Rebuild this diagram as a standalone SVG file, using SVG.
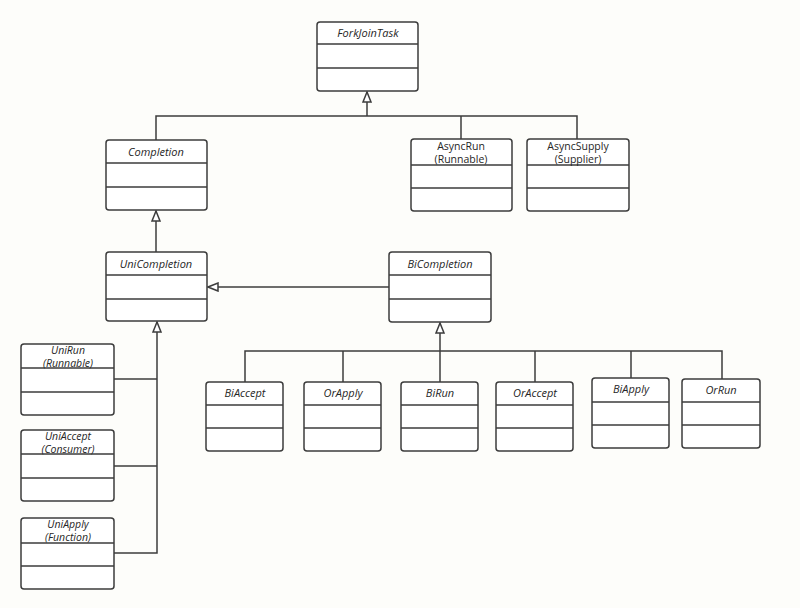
<svg xmlns="http://www.w3.org/2000/svg" width="800" height="608" viewBox="0 0 800 608">
<style>
.bg{fill:#fdfdfa}
.box{fill:#ffffff;stroke:#3c3c3c;stroke-width:1.5}
.div{stroke:#3c3c3c;stroke-width:1.5;fill:none}
.t{font-family:"Open Sans","DejaVu Sans",sans-serif;font-size:11px;fill:#262626;text-anchor:middle;font-weight:500}
.s{font-size:10.5px}
.i{font-style:italic}
.c{stroke:#3c3c3c;stroke-width:1.5;fill:none}
</style>
<defs>
<marker id="gen" markerUnits="userSpaceOnUse" viewBox="0 0 12 10" markerWidth="12" markerHeight="10" refX="11" refY="5" orient="auto">
<path d="M1,1 L11,5 L1,9 Z" fill="#ffffff" stroke="#3c3c3c" stroke-width="1.5"/>
</marker>
</defs>
<rect class="bg" x="0" y="0" width="800" height="608"/>

<g id="connectors">
<path class="c" d="M156,140 V116 H577 V139"/>
<path class="c" d="M461,116 V139"/>
<path class="c" d="M367,116 V92" marker-end="url(#gen)"/>
<path class="c" d="M156,252 V211" marker-end="url(#gen)"/>
<path class="c" d="M389,287 H208" marker-end="url(#gen)"/>
<path class="c" d="M245,382 V351 H722 V379"/>
<path class="c" d="M343,351 V382"/>
<path class="c" d="M535,351 V382"/>
<path class="c" d="M631,351 V378"/>
<path class="c" d="M440,382 V351"/>
<path class="c" d="M440,351 V323" marker-end="url(#gen)"/>
<path class="c" d="M114,379 H157"/>
<path class="c" d="M114,466 H157"/>
<path class="c" d="M114,553 H157 V322" marker-end="url(#gen)"/>
</g>

<g id="ForkJoinTask">
<rect class="box" x="317" y="22" width="101" height="69" rx="3"/>
<path class="div" d="M317,44 H418 M317,68 H418"/>
<text class="t i" x="368" y="37">ForkJoinTask</text>
</g>

<g id="Completion">
<rect class="box" x="106" y="140" width="101" height="70" rx="3"/>
<path class="div" d="M106,163 H207 M106,187 H207"/>
<text class="t i" x="156" y="156">Completion</text>
</g>

<g id="AsyncRun">
<rect class="box" x="411" y="139" width="101" height="72" rx="3"/>
<path class="div" d="M411,165 H512 M411,188 H512"/>
<text class="t s" x="461" y="149.5">AsyncRun</text>
<text class="t s" x="461" y="163">(Runnable)</text>
</g>

<g id="AsyncSupply">
<rect class="box" x="527" y="139" width="102" height="72" rx="3"/>
<path class="div" d="M527,165 H629 M527,188 H629"/>
<text class="t s" x="578" y="149.5">AsyncSupply</text>
<text class="t s" x="578" y="163">(Supplier)</text>
</g>

<g id="UniCompletion">
<rect class="box" x="106" y="252" width="101" height="69" rx="3"/>
<path class="div" d="M106,275 H207 M106,299 H207"/>
<text class="t i" x="156" y="268">UniCompletion</text>
</g>

<g id="BiCompletion">
<rect class="box" x="389" y="252" width="102" height="70" rx="3"/>
<path class="div" d="M389,275 H491 M389,299 H491"/>
<text class="t i" x="440" y="268">BiCompletion</text>
</g>

<g id="UniRun">
<rect class="box" x="21" y="344" width="93" height="71" rx="3"/>
<path class="div" d="M21,368 H114 M21,392 H114"/>
<text class="t s i" x="68" y="353.5">UniRun</text>
<text class="t s i" x="68" y="367">(Runnable)</text>
</g>

<g id="UniAccept">
<rect class="box" x="21" y="430" width="93" height="71" rx="3"/>
<path class="div" d="M21,454 H114 M21,478 H114"/>
<text class="t s i" x="68" y="439.5">UniAccept</text>
<text class="t s i" x="68" y="453">(Consumer)</text>
</g>

<g id="UniApply">
<rect class="box" x="21" y="518" width="93" height="71" rx="3"/>
<path class="div" d="M21,543 H114 M21,566 H114"/>
<text class="t s i" x="68" y="527.5">UniApply</text>
<text class="t s i" x="68" y="541">(Function)</text>
</g>

<g id="BiAccept">
<rect class="box" x="206" y="382" width="77" height="69" rx="3"/>
<path class="div" d="M206,405 H283 M206,428 H283"/>
<text class="t i" x="245" y="397">BiAccept</text>
</g>

<g id="OrApply">
<rect class="box" x="304" y="382" width="77" height="69" rx="3"/>
<path class="div" d="M304,405 H381 M304,428 H381"/>
<text class="t i" x="343" y="397">OrApply</text>
</g>

<g id="BiRun">
<rect class="box" x="401" y="382" width="77" height="69" rx="3"/>
<path class="div" d="M401,405 H478 M401,428 H478"/>
<text class="t i" x="440" y="397">BiRun</text>
</g>

<g id="OrAccept">
<rect class="box" x="496" y="382" width="77" height="69" rx="3"/>
<path class="div" d="M496,405 H573 M496,428 H573"/>
<text class="t i" x="535" y="397">OrAccept</text>
</g>

<g id="BiApply">
<rect class="box" x="592" y="378" width="77" height="70" rx="3"/>
<path class="div" d="M592,402 H669 M592,425 H669"/>
<text class="t i" x="631" y="393">BiApply</text>
</g>

<g id="OrRun">
<rect class="box" x="682" y="379" width="78" height="69" rx="3"/>
<path class="div" d="M682,402 H760 M682,425 H760"/>
<text class="t i" x="721" y="394">OrRun</text>
</g>
</svg>
